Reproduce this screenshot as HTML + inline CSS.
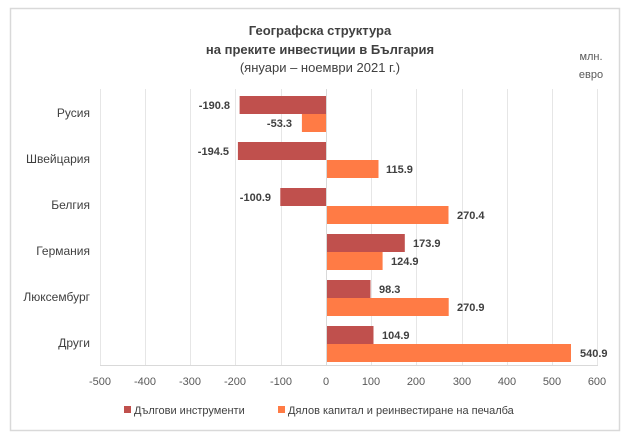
<!DOCTYPE html>
<html><head><meta charset="utf-8"><style>
body{margin:0;background:#fff;}
svg{display:block;font-family:"Liberation Sans","DejaVu Sans",sans-serif;}
</style></head><body>
<svg width="630" height="439" viewBox="0 0 630 439">
<rect x="0" y="0" width="630" height="439" fill="#fff"/>
<rect x="10.5" y="8.5" width="609" height="422" fill="#fff" stroke="#d9d9d9" stroke-width="1.5"/>
<g font-size="13" text-anchor="middle" fill="#404040">
<text x="320" y="35" font-weight="bold">Географска структура</text>
<text x="320" y="54" font-weight="bold">на преките инвестиции в България</text>
<text x="320" y="72">(януари – ноември 2021 г.)</text>
</g>
<g font-size="11" fill="#595959" text-anchor="middle"><text x="591" y="60">млн.</text><text x="591" y="78">евро</text></g>
<g stroke="#e6e6e6" stroke-width="1">
<line x1="145.5" y1="89" x2="145.5" y2="365"/><line x1="190.5" y1="89" x2="190.5" y2="365"/><line x1="235.5" y1="89" x2="235.5" y2="365"/><line x1="281.5" y1="89" x2="281.5" y2="365"/><line x1="371.5" y1="89" x2="371.5" y2="365"/><line x1="416.5" y1="89" x2="416.5" y2="365"/><line x1="462.5" y1="89" x2="462.5" y2="365"/><line x1="507.5" y1="89" x2="507.5" y2="365"/><line x1="552.5" y1="89" x2="552.5" y2="365"/><line x1="597.5" y1="89" x2="597.5" y2="365"/><line x1="100.5" y1="89" x2="100.5" y2="365"/>
</g>
<line x1="100" y1="365.5" x2="598" y2="365.5" stroke="#d9d9d9"/>
<g fill="#c0504d">
<rect x="239.6" y="96" width="86.4" height="18"/>
<rect x="237.9" y="142" width="88.1" height="18"/>
<rect x="280.3" y="188" width="45.7" height="18"/>
<rect x="326" y="234" width="78.8" height="18"/>
<rect x="326" y="280" width="44.5" height="18"/>
<rect x="326" y="326" width="47.5" height="18"/>
</g>
<g fill="#ff7b45">
<rect x="301.9" y="114" width="24.1" height="18"/>
<rect x="326" y="160" width="52.5" height="18"/>
<rect x="326" y="206" width="122.5" height="18"/>
<rect x="326" y="252" width="56.6" height="18"/>
<rect x="326" y="298" width="122.7" height="18"/>
<rect x="326" y="344" width="245" height="18"/>
</g>
<line x1="326.5" y1="89" x2="326.5" y2="365" stroke="#d9d9d9"/>
<g font-size="11" font-weight="bold" fill="#404040">
<text x="230" y="109" text-anchor="end">-190.8</text>
<text x="292" y="127" text-anchor="end">-53.3</text>
<text x="229" y="155" text-anchor="end">-194.5</text>
<text x="386" y="173">115.9</text>
<text x="271" y="201" text-anchor="end">-100.9</text>
<text x="457" y="219">270.4</text>
<text x="413" y="247">173.9</text>
<text x="391" y="265">124.9</text>
<text x="379" y="293">98.3</text>
<text x="457" y="311">270.9</text>
<text x="382" y="339">104.9</text>
<text x="580" y="357">540.9</text>
</g>
<g font-size="12" fill="#404040" text-anchor="end">
<text x="90" y="117">Русия</text>
<text x="90" y="163">Швейцария</text>
<text x="90" y="209">Белгия</text>
<text x="90" y="255">Германия</text>
<text x="90" y="301">Люксембург</text>
<text x="90" y="347">Други</text>
</g>
<g font-size="11" fill="#595959" text-anchor="middle">
<text x="100" y="385">-500</text><text x="145" y="385">-400</text><text x="190" y="385">-300</text><text x="235" y="385">-200</text><text x="281" y="385">-100</text><text x="326" y="385">0</text><text x="371" y="385">100</text><text x="416" y="385">200</text><text x="462" y="385">300</text><text x="507" y="385">400</text><text x="552" y="385">500</text><text x="597" y="385">600</text>
</g>
<rect x="124" y="406" width="7" height="7" fill="#c0504d"/>
<text x="134" y="414" font-size="11" fill="#404040">Дългови инструменти</text>
<rect x="278" y="406" width="7" height="7" fill="#ff7b45"/>
<text x="288" y="414" font-size="11" fill="#404040">Дялов капитал и реинвестиране на печалба</text>
</svg>
</body></html>
